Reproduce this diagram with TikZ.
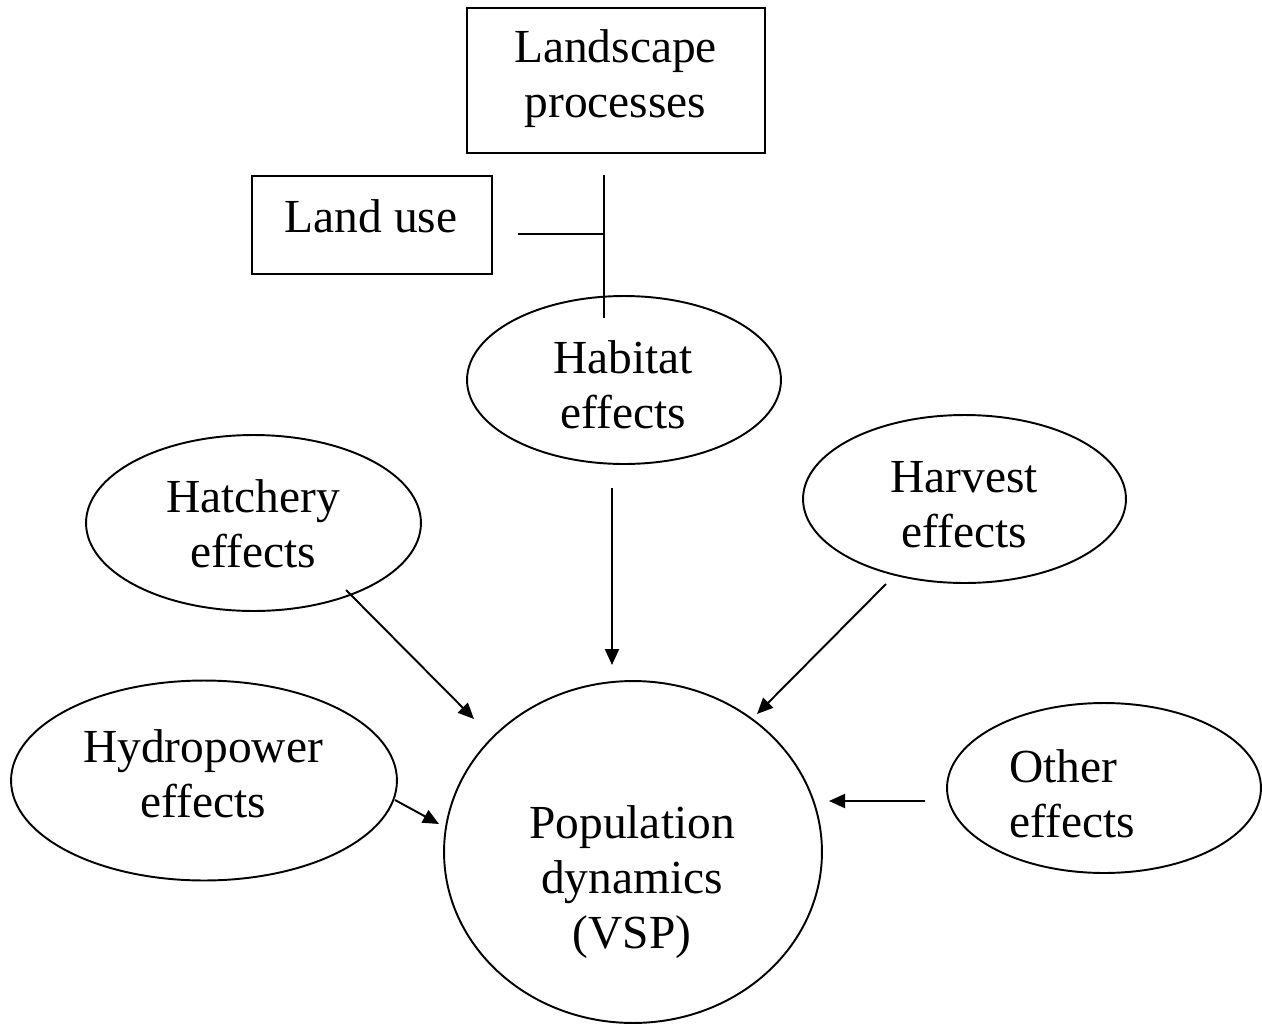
\documentclass[tikz,border=0pt]{standalone}
\usepackage{fontspec}
\setmainfont{Liberation Serif}
\usetikzlibrary{shapes.geometric,arrows.meta}
\begin{document}
\begin{tikzpicture}[x=0.02cm,y=-0.02cm,
  every node/.style={inner sep=0pt, outer sep=0pt},
  txt/.style={font=\fontsize{27}{31.3}\selectfont, align=center},
  oval/.style={draw, ellipse, line width=1.1pt},
  boxx/.style={draw, rectangle, line width=1.3pt},
  conn/.style={line width=1.1pt},
  arr/.style={line width=1.1pt, -{Triangle[length=0.32cm,width=0.28cm]}}]
\useasboundingbox (0,0) rectangle (1262,1025);
% shapes
\node[boxx, minimum width=5.96cm, minimum height=2.9cm] (land) at (616,80.5) {};
\node[boxx, minimum width=4.8cm, minimum height=1.96cm] (use) at (372,225) {};
\node[oval, minimum width=6.28cm, minimum height=3.36cm] (hab) at (624,380) {};
\node[oval, minimum width=6.70cm, minimum height=3.52cm] (hat) at (253.5,523) {};
\node[oval, minimum width=6.46cm, minimum height=3.36cm] (har) at (964.5,499) {};
\node[oval, minimum width=7.72cm, minimum height=4.0cm] (hyd) at (204,780.5) {};
\node[oval, minimum width=6.28cm, minimum height=3.4cm] (oth) at (1104,788) {};
\node[oval, minimum width=7.56cm, minimum height=6.84cm] (pop) at (633,852) {};
% texts
\node[txt] (landT) at (615.5,79) {Landscape\\processes};
\node[txt] (useT) at (371,216) {Land use};
\node[txt] (habT) at (623,384.5) {Habitat\\effects};
\node[txt] (hatT) at (253,523.5) {Hatchery\\effects};
\node[txt] (harT) at (964,504.5) {Harvest\\effects};
\node[txt] (hydT) at (203,774) {Hydropower\\effects};
\node[txt, align=left] (othT) at (1072,793.5) {Other\\effects};
\node[txt] (popT) at (632,882) {Population\\dynamics\\(VSP)};
% connector end points
\coordinate (v1) at (604,175);
\coordinate (v2) at (604,318);
\coordinate (h1) at (518,234);
\coordinate (h2) at (604,234);
\coordinate (a1s) at (612,488);
\coordinate (a1e) at (612,665);
\coordinate (a2s) at (346,590);
\coordinate (a2e) at (474,719);
\coordinate (a3s) at (886,584);
\coordinate (a3e) at (757,714);
\coordinate (a4s) at (395,800);
\coordinate (a4e) at (439,824);
\coordinate (a5s) at (925,801);
\coordinate (a5e) at (829,801);
% connectors
\draw[conn] (v1) -- (v2);
\draw[conn] (h1) -- (h2);
\draw[arr] (a1s) -- (a1e);
\draw[arr] (a2s) -- (a2e);
\draw[arr] (a3s) -- (a3e);
\draw[arr] (a4s) -- (a4e);
\draw[arr] (a5s) -- (a5e);
\end{tikzpicture}
\end{document}
